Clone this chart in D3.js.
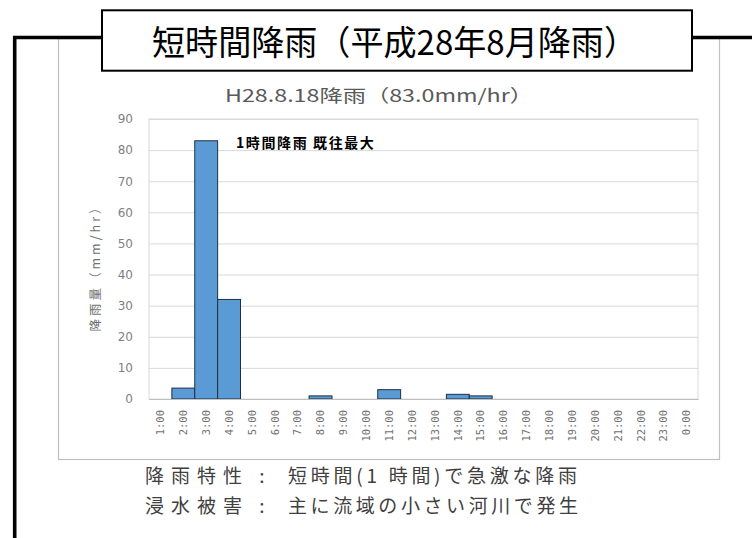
<!DOCTYPE html>
<html>
<head>
<meta charset="utf-8">
<script src="https://cdn.jsdelivr.net/npm/d3@7"></script>
<style>
  body { margin: 0; background: #fff; }
  svg { display: block; }
</style>
</head>
<body>
<div id="chart"></div>
<script>
// hourly rainfall, H28.8.18
var hours = ["1:00", "2:00", "3:00", "4:00", "5:00", "6:00", "7:00", "8:00", "9:00", "10:00",
    "11:00", "12:00", "13:00", "14:00", "15:00", "16:00", "17:00", "18:00", "19:00", "20:00",
    "21:00", "22:00", "23:00", "0:00"];
var rain = [0, 3.5, 83, 32, 0, 0, 0, 1, 0, 0,
    3, 0, 0, 1.5, 1, 0, 0, 0, 0, 0,
    0, 0, 0, 0];
var yTicks = [0, 10, 20, 30, 40, 50, 60, 70, 80, 90];

var titleText = "短時間降雨（平成28年8月降雨）";
var subTitle = "H28.8.18降雨（83.0mm/hr）";
var yTitle = "降雨量（mm/hr）";
var note = "1時間降雨 既往最大";
var footLabels = ["降雨特性", "浸水被害"];
var footTexts = ["短時間(1 時間)で急激な降雨", "主に流域の小さい河川で発生"];

var svgWidth = 752;
var svgHeight = 538;

var plot = { left: 149, right: 698, top: 119, bottom: 399 };
var chartWidth = plot.right - plot.left;
var chartHeight = plot.bottom - plot.top;

var jp = "'Noto Sans CJK JP', 'Noto Sans', sans-serif";

var svg = d3.select("#chart")
    .append("svg")
    .attr("width", svgWidth)
    .attr("height", svgHeight);

// outer chart frame (light gray)
svg.append("rect")
    .attr("x", 58.5).attr("y", 38.5)
    .attr("width", 661).attr("height", 421)
    .attr("fill", "none")
    .attr("stroke", "#bfbfbf")
    .attr("stroke-width", 1.2);

// thick black bracket lines
svg.append("path")
    .attr("d", "M14.7,538 L14.7,37.5 L102,37.5 M692,37.5 L752,37.5")
    .attr("fill", "none")
    .attr("stroke", "#000")
    .attr("stroke-width", 3.6);

// title box
svg.append("rect")
    .attr("x", 102).attr("y", 10.3)
    .attr("width", 590).attr("height", 60.4)
    .attr("fill", "#fff")
    .attr("stroke", "#000")
    .attr("stroke-width", 2);

svg.append("text")
    .attr("x", 394.5).attr("y", 42.5)
    .attr("dy", "0.36em")
    .attr("text-anchor", "middle")
    .attr("font-family", jp)
    .attr("font-size", 34)
    .attr("textLength", 485)
    .attr("lengthAdjust", "spacingAndGlyphs")
    .attr("fill", "#000")
    .text(titleText);

svg.append("text")
    .attr("x", 379).attr("y", 96)
    .attr("dy", "0.36em")
    .attr("text-anchor", "middle")
    .attr("font-family", jp)
    .attr("font-size", 17.5)
    .attr("textLength", 308)
    .attr("lengthAdjust", "spacingAndGlyphs")
    .attr("fill", "#595959")
    .text(subTitle);

var chartGroup = svg.append("g")
    .attr("transform", `translate(${plot.left}, ${plot.top})`);

var x = d3.scaleBand()
    .domain(hours)
    .range([0, chartWidth])
    .padding(0);

var y = d3.scaleLinear()
    .domain([0, 90])
    .range([chartHeight, 0]);

// gridlines
chartGroup.append("g")
    .call(d3.axisLeft(y).tickValues(yTicks).tickSize(-chartWidth).tickFormat(""))
    .call(g => g.select(".domain").remove())
    .call(g => g.selectAll("line").attr("stroke", "#d9d9d9"));

// plot area border
chartGroup.append("rect")
    .attr("width", chartWidth).attr("height", chartHeight)
    .attr("fill", "none")
    .attr("stroke", "#d9d9d9");

// bars
chartGroup.selectAll(".bar")
    .data(hours.map((h, i) => ({ hour: h, value: rain[i] })).filter(d => d.value > 0))
    .enter().append("rect")
    .attr("class", "bar")
    .attr("x", d => x(d.hour))
    .attr("y", d => y(d.value))
    .attr("width", x.bandwidth())
    .attr("height", d => chartHeight - y(d.value))
    .attr("fill", "#5b9bd5")
    .attr("stroke", "#1f2f45")
    .attr("stroke-width", 1);

// y axis
chartGroup.append("g")
    .call(d3.axisLeft(y).tickValues(yTicks).tickSize(0).tickPadding(16))
    .call(g => g.select(".domain").remove())
    .call(g => g.selectAll("text")
        .attr("font-family", "'DejaVu Sans', sans-serif")
        .attr("font-size", 12)
        .attr("fill", "#7f7f7f"));

// x axis
var xAxis = chartGroup.append("g")
    .attr("transform", `translate(0,${chartHeight})`)
    .call(d3.axisBottom(x).tickSize(0));
xAxis.select(".domain").attr("stroke", "#bfbfbf");
xAxis.selectAll("text")
    .attr("transform", "rotate(-90)")
    .attr("text-anchor", "end")
    .attr("x", -11)
    .attr("y", 0)
    .attr("dy", "0.35em")
    .attr("font-family", "'DejaVu Sans Mono', monospace")
    .attr("font-size", 10.5)
    .attr("fill", "#707070");

// y axis title
svg.append("text")
    .attr("transform", "translate(95,265) rotate(-90)")
    .attr("text-anchor", "middle")
    .attr("dy", "0.36em")
    .attr("font-family", jp)
    .attr("font-size", 12.5)
    .attr("letter-spacing", 3)
    .attr("fill", "#707070")
    .text(yTitle);

// annotation
svg.append("text")
    .attr("x", 236).attr("y", 143)
    .attr("dy", "0.36em")
    .attr("font-family", jp)
    .attr("font-size", 14)
    .attr("font-weight", "bold")
    .attr("letter-spacing", 1.6)
    .attr("fill", "#000")
    .text(note);

// footer text
var rowY = [476, 506];
footLabels.forEach(function (lab, i) {
    svg.append("text")
        .attr("x", 145).attr("y", rowY[i])
        .attr("dy", "0.36em")
        .attr("font-family", jp)
        .attr("font-size", 19)
        .attr("letter-spacing", 7)
        .attr("fill", "#404040")
        .text(lab);
    svg.append("text")
        .attr("x", 262).attr("y", rowY[i])
        .attr("dy", "0.36em")
        .attr("text-anchor", "middle")
        .attr("font-family", jp)
        .attr("font-size", 19)
        .attr("fill", "#404040")
        .text(":");
    svg.append("text")
        .attr("x", 288).attr("y", rowY[i])
        .attr("dy", "0.36em")
        .attr("font-family", jp)
        .attr("font-size", 19)
        .attr("textLength", i === 0 ? 289 : 290)
        .attr("lengthAdjust", "spacing")
        .attr("fill", "#404040")
        .text(footTexts[i]);
});
</script>
</body>
</html>
